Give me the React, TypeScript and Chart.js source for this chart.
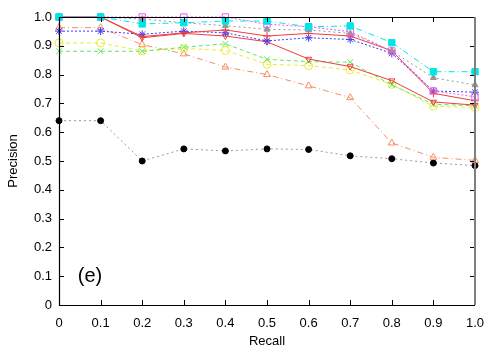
import React, { useEffect, useRef } from "react";
import { Chart, registerables } from "chart.js";

Chart.register(...registerables);

const recall = [0, 0.1, 0.2, 0.3, 0.4, 0.5, 0.6, 0.7, 0.8, 0.9, 1.0];

const redPlus = [1.0, 1.0, 0.932, 0.945, 0.955, 0.934, 0.943, 0.934, 0.883, 0.735, 0.709];
const redTri = [1.0, 1.0, 0.928, 0.943, 0.934, 0.914, 0.854, 0.828, 0.779, 0.705, 0.694];
const blueStar = [0.951, 0.951, 0.94, 0.951, 0.945, 0.917, 0.928, 0.922, 0.874, 0.743, 0.739];
const cyanSq = [1.0, 1.0, 0.976, 0.98, 0.986, 0.986, 0.966, 0.969, 0.911, 0.81, 0.81];
const magentaSq = [1.0, 1.0, 1.0, 1.0, 1.0, 0.975, 0.966, 0.949, 0.882, 0.743, 0.723];
const grayTri = [1.0, 1.0, 0.993, 0.98, 0.97, 0.957, 0.955, 0.943, 0.882, 0.789, 0.764];
const greenX = [0.881, 0.881, 0.881, 0.895, 0.907, 0.853, 0.845, 0.843, 0.764, 0.697, 0.692];
const yellowCirc = [0.91, 0.91, 0.882, 0.891, 0.884, 0.836, 0.831, 0.816, 0.766, 0.69, 0.686];
const orangeTri = [0.963, 0.963, 0.904, 0.872, 0.826, 0.8, 0.761, 0.72, 0.5625, 0.513, 0.502];
const blackCirc = [0.64, 0.64, 0.5, 0.542, 0.535, 0.542, 0.54, 0.518, 0.508, 0.493, 0.484];

const panelLabel = "(e)";
const xTitle = "Recall";
const yTitle = "Precision";

const FONT = "'Liberation Sans', Arial, sans-serif";

function pts(vals: number[]) {
  return vals.map((v, i) => ({ x: recall[i], y: v }));
}

const fmt = (v: number) => (v === 0 ? "0" : Number(v).toFixed(1));

const framePlugin = {
  id: "frame",
  afterDatasetsDraw(chart: any) {
    const { ctx, chartArea: a, scales } = chart;
    const xs = scales.x;
    const ys = scales.y;
    ctx.save();
    ctx.strokeStyle = "#000";
    ctx.lineWidth = 1;
    const L = 5;
    for (let i = 0; i <= 10; i++) {
      const v = i / 10;
      const px = Math.round(xs.getPixelForValue(v)) + 0.5;
      const py = Math.round(ys.getPixelForValue(v)) + 0.5;
      ctx.beginPath();
      ctx.moveTo(px, a.bottom);
      ctx.lineTo(px, a.bottom - L);
      ctx.moveTo(px, a.top);
      ctx.lineTo(px, a.top + L);
      ctx.moveTo(a.left, py);
      ctx.lineTo(a.left + L, py);
      ctx.moveTo(a.right, py);
      ctx.lineTo(a.right - L, py);
      ctx.stroke();
    }
    ctx.beginPath();
    ctx.moveTo(a.right, Math.round(a.top) + 0.5);
    ctx.lineTo(Math.round(a.left) + 0.5, Math.round(a.top) + 0.5);
    ctx.lineTo(Math.round(a.left) + 0.5, Math.round(a.bottom) + 0.5);
    ctx.lineTo(a.right, Math.round(a.bottom) + 0.5);
    ctx.lineWidth = 1.2;
    ctx.strokeStyle = "#000";
    ctx.stroke();
    ctx.beginPath();
    ctx.moveTo(Math.round(a.right), a.top);
    ctx.lineTo(Math.round(a.right), a.bottom);
    ctx.lineWidth = 2;
    ctx.strokeStyle = "#808080";
    ctx.stroke();
    ctx.fillStyle = "#000";
    ctx.font = `20px ${FONT}`;
    ctx.textAlign = "left";
    ctx.textBaseline = "middle";
    ctx.fillText(panelLabel, xs.getPixelForValue(0.045), ys.getPixelForValue(0.1));
    ctx.restore();
  },
};

type DS = {
  data: number[];
  color: string;
  pointColor?: string;
  style: string;
  rotation?: number;
  filled: boolean;
  dash: number[];
  radius?: number;
};

// listed bottom-most first
const series: DS[] = [
  { data: blackCirc, color: "#999999", pointColor: "#000000", style: "circle", filled: true, dash: [2, 3], radius: 3 },
  { data: orangeTri, color: "rgb(250,140,100)", style: "triangle", filled: false, dash: [6, 3, 1, 3] },
  { data: yellowCirc, color: "rgb(235,235,50)", style: "circle", filled: false, dash: [4, 3] },
  { data: greenX, color: "rgb(90,235,90)", style: "crossRot", filled: false, dash: [4, 3] },
  { data: redTri, color: "rgb(240,60,60)", style: "triangle", rotation: 180, filled: false, dash: [], radius: 3.5 },
  { data: blueStar, color: "rgb(60,60,250)", style: "star", filled: false, dash: [2, 2] },
  { data: redPlus, color: "rgb(240,60,60)", style: "cross", filled: false, dash: [] },
  { data: grayTri, color: "rgb(150,150,150)", style: "triangle", filled: true, dash: [2, 3], radius: 3.5 },
  { data: magentaSq, color: "rgb(235,90,235)", style: "rect", filled: false, dash: [2, 2], radius: 4.5 },
  { data: cyanSq, color: "rgb(0,230,230)", style: "rect", filled: true, dash: [6, 3, 1, 3], radius: 4.5 },
];

export default function App() {
  const ref = useRef<HTMLCanvasElement | null>(null);
  useEffect(() => {
    if (!ref.current) return;
    const chart = new Chart(ref.current, {
      type: "line",
      data: {
        datasets: series.map((s, i) => ({
          data: pts(s.data),
          order: series.length - i,
          borderColor: s.color,
          borderWidth: 1,
          borderDash: s.dash,
          pointStyle: s.style as any,
          pointRotation: s.rotation || 0,
          pointRadius: s.radius || 4,
          pointBorderWidth: 1,
          pointBorderColor: s.pointColor || s.color,
          pointBackgroundColor: s.filled ? s.pointColor || s.color : "rgba(0,0,0,0)",
          tension: 0,
          fill: false,
          clip: false as any,
        })),
      },
      options: {
        animation: false,
        responsive: false,
        maintainAspectRatio: false,
        layout: { padding: { top: 17, right: 25, left: 0, bottom: 0 } },
        plugins: { legend: { display: false }, tooltip: { enabled: false } },
        scales: {
          x: {
            type: "linear",
            min: 0,
            max: 1,
            afterFit(scale: any) {
              scale.height = 45;
            },
            border: { display: false },
            grid: { display: false, drawTicks: false },
            ticks: {
              stepSize: 0.1,
              padding: 11,
              color: "#000",
              font: { family: FONT, size: 13 },
              maxRotation: 0,
              callback: (v: any) => fmt(Number(v)),
            },
            title: {
              display: true,
              text: xTitle,
              color: "#000",
              font: { family: FONT, size: 13 },
              padding: { top: 4, bottom: 1 },
            },
          },
          y: {
            type: "linear",
            min: 0,
            max: 1,
            afterFit(scale: any) {
              scale.width = 59;
            },
            border: { display: false },
            grid: { display: false, drawTicks: false },
            ticks: {
              stepSize: 0.1,
              padding: 7,
              color: "#000",
              font: { family: FONT, size: 13 },
              callback: (v: any) => fmt(Number(v)),
            },
            title: {
              display: true,
              text: yTitle,
              color: "#000",
              font: { family: FONT, size: 13 },
              padding: { top: 6, bottom: 4 },
            },
          },
        },
      },
      plugins: [framePlugin],
    });
    return () => chart.destroy();
  }, []);
  return (
    <div style={{ position: "fixed", left: 0, top: 0, width: 500, height: 350, background: "#fff" }}>
      <canvas ref={ref} width={500} height={350} style={{ width: 500, height: 350, display: "block" }} />
    </div>
  );
}
